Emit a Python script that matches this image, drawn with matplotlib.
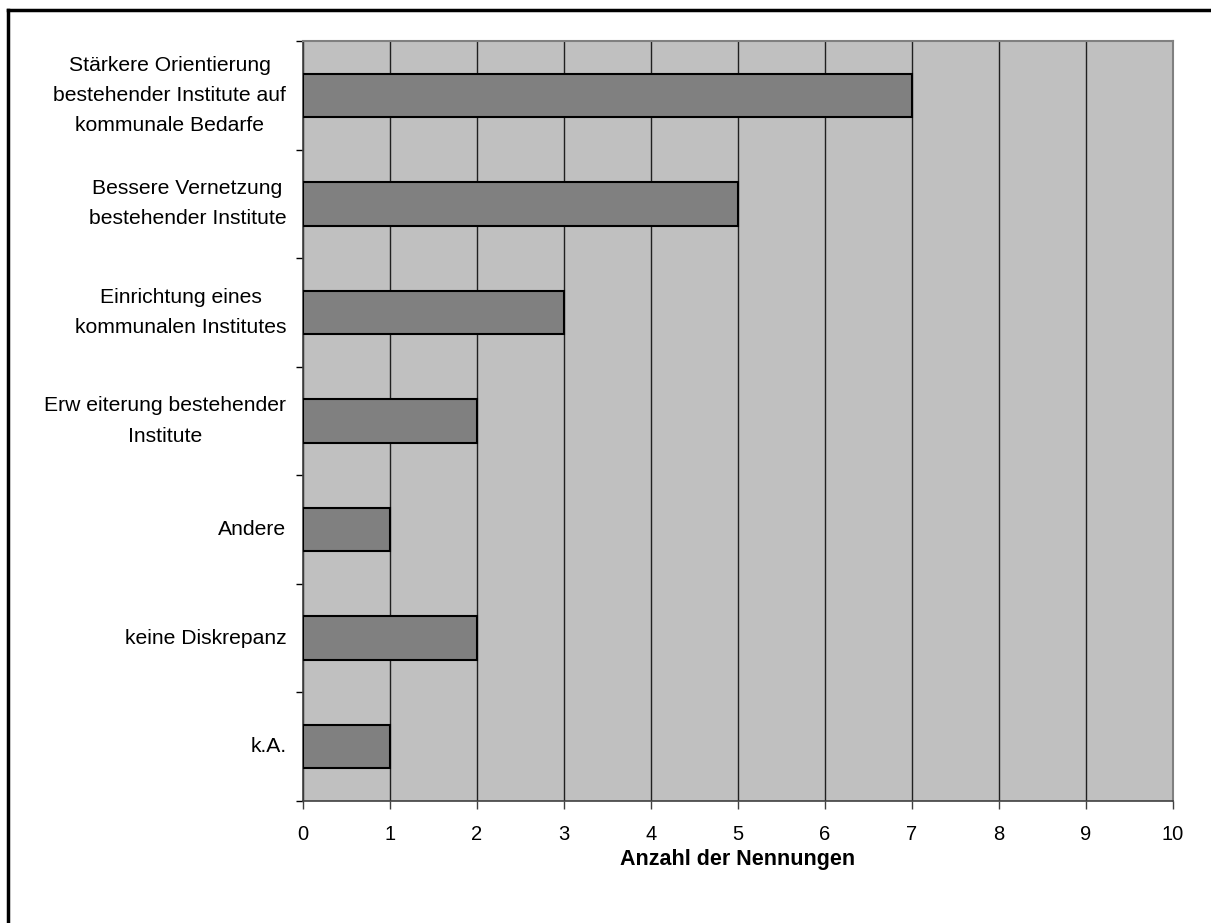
import matplotlib.pyplot as plt
from matplotlib.lines import Line2D

plt.rcParams['font.family'] = ['Liberation Sans', 'DejaVu Sans']

# answers, top to bottom
categories = [
    "Stärkere Orientierung\nbestehender Institute auf\nkommunale Bedarfe",
    "Bessere Vernetzung\nbestehender Institute",
    "Einrichtung eines\nkommunalen Institutes",
    "Erw eiterung bestehender\nInstitute",
    "Andere",
    "keine Diskrepanz",
    "k.A.",
]
counts = [7, 5, 3, 2, 1, 2, 1]
xticks = list(range(0, 11))

W, H = 1211, 923
fig = plt.figure(figsize=(W / 100, H / 100), dpi=100, facecolor="white")
ax = fig.add_axes([303 / W, 1 - 801 / H, 870 / W, 760 / H])

ax.set_facecolor("#C0C0C0")
ax.set_axisbelow(True)
ax.grid(axis="x", color="#202020", linewidth=1.0)

pos = list(range(len(categories)))
ax.barh(pos, counts, height=0.4, color="#808080", edgecolor="black", linewidth=1.5, zorder=3)

ax.set_ylim(len(categories) - 0.5, -0.5)
ax.set_xlim(0, 10)
ax.set_xticks(xticks)
ax.set_xticklabels([str(t) for t in xticks])

# category labels sit between the tick marks
ax.set_yticks(pos)
ax.set_yticklabels(categories, multialignment="center", linespacing=1.75, va="center")
ax.set_yticks([p - 0.5 for p in pos] + [len(pos) - 0.5], minor=True)
ax.tick_params(axis="y", which="major", length=0, pad=12, labelsize=15.2)
ax.tick_params(axis="y", which="minor", length=5, width=1, color="black")
ax.tick_params(axis="x", length=6, width=1, color="#404040", pad=11, labelsize=14.5)

for side in ("left", "bottom"):
    ax.spines[side].set_color("#404040")
    ax.spines[side].set_linewidth(1.2)
for side in ("top", "right"):
    ax.spines[side].set_color("#808080")
    ax.spines[side].set_linewidth(1.5)

ax.set_xlabel("Anzahl der Nennungen", fontsize=15.5, fontweight="bold", labelpad=4)

# outer frame, open to the right and bottom
fig.add_artist(Line2D([8 / W, 8 / W], [0, 1 - 10 / H], color="black", linewidth=2.5))
fig.add_artist(Line2D([8 / W, 1], [1 - 10 / H, 1 - 10 / H], color="black", linewidth=2.5))

fig.savefig("out.png", dpi=100, facecolor="white")
